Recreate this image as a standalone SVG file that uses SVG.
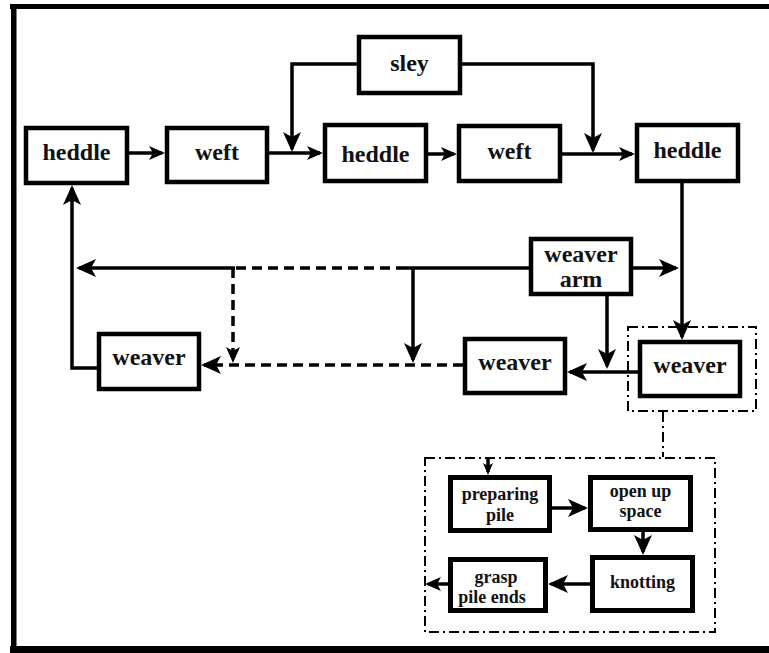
<svg xmlns="http://www.w3.org/2000/svg" width="769" height="653" viewBox="0 0 769 653">
  <style>
    .box { fill: #fff; stroke: #000; stroke-width: 4.5; }
    .ibox { fill: #fff; stroke: #000; stroke-width: 5; }
    .lbl { font-family: "Liberation Serif", "Times New Roman", serif; font-weight: bold; font-size: 24px; text-anchor: middle; fill: #111; }
    .ilbl { font-family: "Liberation Serif", "Times New Roman", serif; font-weight: bold; font-size: 18px; text-anchor: middle; fill: #111; }
    .ln { fill: none; stroke: #000; stroke-width: 3.5; }
    .dash { fill: none; stroke: #000; stroke-width: 3.5; stroke-dasharray: 10 6; }
    .dd { fill: none; stroke: #000; stroke-width: 2; stroke-dasharray: 10 4 2 4; }
  </style>
  <defs>
    <marker id="ah" viewBox="-21 -10 22 20" refX="-3" refY="0" markerWidth="22" markerHeight="20" markerUnits="userSpaceOnUse" orient="auto">
      <path d="M0,0 L-20,-9 L-15,0 L-20,9 Z" fill="#000"/>
    </marker>
    <marker id="am" viewBox="-17 -8 18 16" refX="-3" refY="0" markerWidth="18" markerHeight="16" markerUnits="userSpaceOnUse" orient="auto">
      <path d="M0,0 L-16,-7 L-12,0 L-16,7 Z" fill="#000"/>
    </marker>
    <marker id="as" viewBox="-13 -6 14 12" refX="-3" refY="0" markerWidth="14" markerHeight="12" markerUnits="userSpaceOnUse" orient="auto">
      <path d="M0,0 L-12,-5 L-9,0 L-12,5 Z" fill="#000"/>
    </marker>
  </defs>

  <rect width="769" height="653" fill="#fff"/>
  <!-- frame -->
  <rect x="10" y="4" width="759" height="5" fill="#000"/>
  <rect x="11" y="4" width="5.5" height="649" fill="#000"/>
  <rect x="10" y="646" width="759" height="7" fill="#000"/>

  <!-- grouping outlines -->
  <g id="groups">
    <rect class="dd" x="628" y="327" width="128" height="84"/>
    <rect class="dd" x="425" y="458" width="290" height="174"/>
  </g>

  <g id="connectors">
    <path class="ln" d="M129,153 H162" marker-end="url(#am)"/>
    <path class="ln" d="M269,153 H320" marker-end="url(#am)"/>
    <path class="ln" d="M357,64 H292 V149" marker-end="url(#ah)"/>
    <path class="ln" d="M462,64 H593 V150" marker-end="url(#ah)"/>
    <path class="ln" d="M428,154 H454" marker-end="url(#am)"/>
    <path class="ln" d="M562,154 H632" marker-end="url(#am)"/>
    <path class="ln" d="M682,183 V337" marker-end="url(#ah)"/>
    <path class="ln" d="M633,268 H676" marker-end="url(#ah)"/>
    <path class="ln" d="M529,268 H406"/>
    <path class="ln" d="M413,268 V360" marker-end="url(#ah)"/>
    <path class="dash" d="M406,268 H233"/>
    <path class="ln" d="M235,268 H79" marker-end="url(#ah)"/>
    <path class="dash" d="M233,268 V360" marker-end="url(#am)"/>
    <path class="ln" d="M607,296 V366" marker-end="url(#ah)"/>
    <path class="ln" d="M640,372 H570" marker-end="url(#ah)"/>
    <path class="dash" d="M463,365 H204" marker-end="url(#ah)"/>
    <path class="ln" d="M99,368 H72 V188" marker-end="url(#ah)"/>
    <path class="dd" d="M663,412 V457"/>
    <path class="ln" d="M488,458 V472" marker-end="url(#as)"/>
    <path class="ln" d="M552,508 H585" marker-end="url(#ah)"/>
    <path class="ln" d="M643,532 V552" marker-end="url(#ah)"/>
    <path class="ln" d="M590,584 H551" marker-end="url(#ah)"/>
    <path class="ln" d="M448,584 H428" marker-end="url(#am)"/>
  </g>

  <g id="heddle1"><rect class="box" x="26" y="128" width="101" height="55"/><text class="lbl" x="76.5" y="160">heddle</text></g>
  <g id="weft1"><rect class="box" x="167" y="128" width="100" height="54"/><text class="lbl" x="217" y="160">weft</text></g>
  <g id="sley"><rect class="box" x="359" y="37" width="101" height="56"/><text class="lbl" x="409.5" y="71">sley</text></g>
  <g id="heddle2"><rect class="box" x="325" y="125" width="101" height="56"/><text class="lbl" x="375.5" y="162">heddle</text></g>
  <g id="weft2"><rect class="box" x="459" y="126" width="101" height="55"/><text class="lbl" x="509.5" y="159">weft</text></g>
  <g id="heddle3"><rect class="box" x="637" y="125" width="101" height="56"/><text class="lbl" x="687.5" y="158">heddle</text></g>
  <g id="weaver-arm"><rect class="box" x="531" y="239" width="100" height="55"/><text class="lbl" x="581" y="262">weaver</text><text class="lbl" x="581" y="287">arm</text></g>
  <g id="weaver1"><rect class="box" x="99" y="334" width="100" height="55"/><text class="lbl" x="149" y="365">weaver</text></g>
  <g id="weaver2"><rect class="box" x="465" y="339" width="100" height="54"/><text class="lbl" x="515" y="370">weaver</text></g>
  <g id="weaver3"><rect class="box" x="640" y="342" width="100" height="54"/><text class="lbl" x="690" y="373">weaver</text></g>

  <g id="preparing-pile"><rect class="ibox" x="450.5" y="477.5" width="99" height="53"/><text class="ilbl" x="500" y="500">preparing</text><text class="ilbl" x="500" y="521">pile</text></g>
  <g id="open-up-space"><rect class="ibox" x="590.5" y="477.5" width="100" height="52"/><text class="ilbl" x="640.5" y="497">open up</text><text class="ilbl" x="640.5" y="517">space</text></g>
  <g id="knotting"><rect class="ibox" x="592.5" y="557.5" width="100" height="53"/><text class="ilbl" x="642.5" y="588">knotting</text></g>
  <g id="grasp-pile-ends"><rect class="ibox" x="450.5" y="559.5" width="95" height="51"/><text class="ilbl" x="496" y="583">grasp</text><text class="ilbl" x="492" y="603">pile ends</text></g>
</svg>
